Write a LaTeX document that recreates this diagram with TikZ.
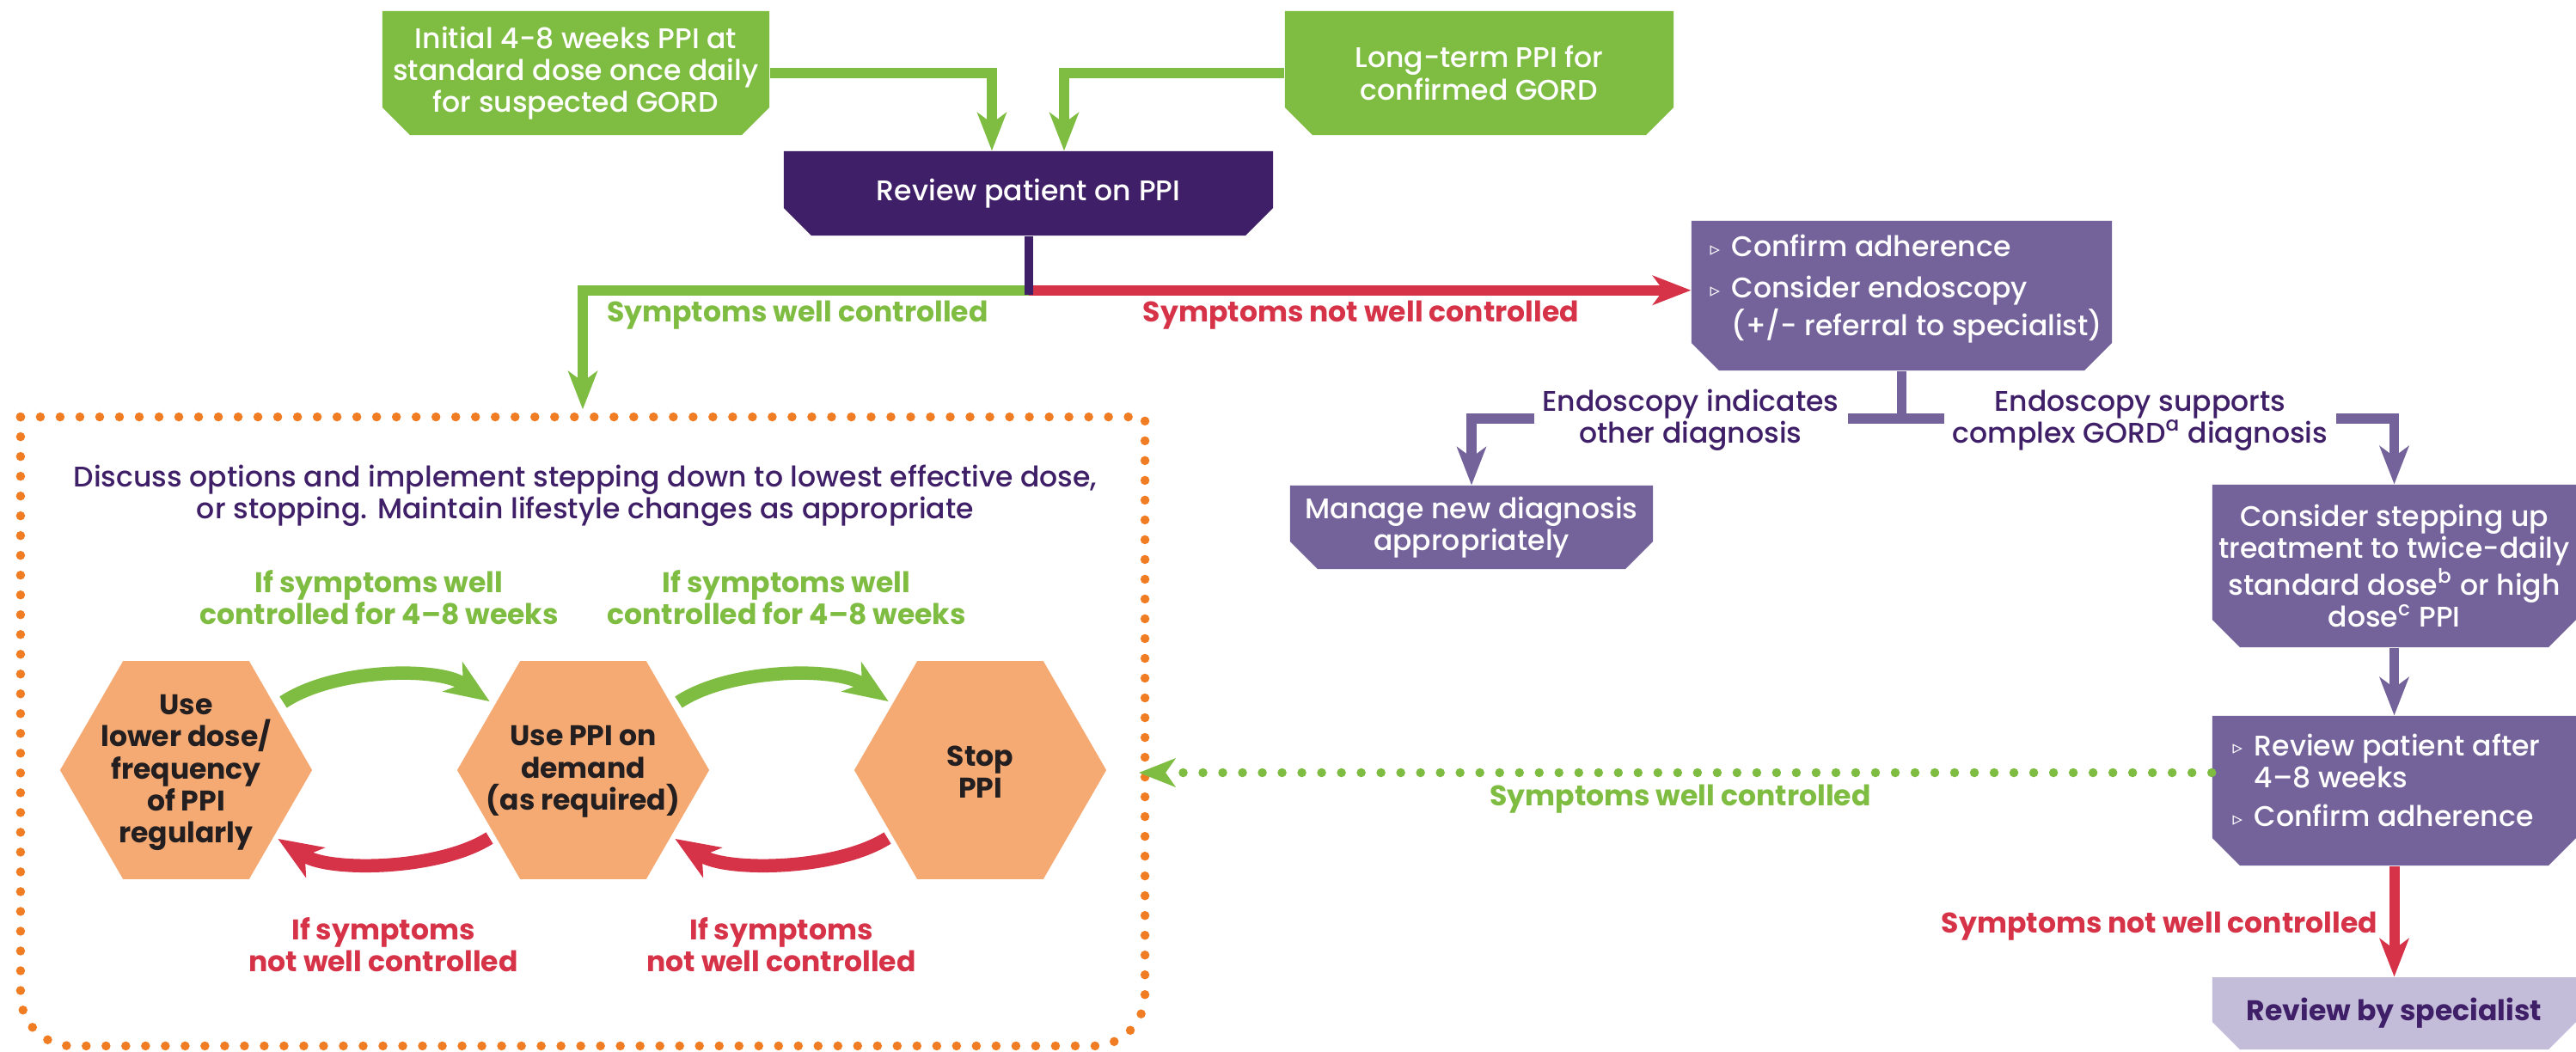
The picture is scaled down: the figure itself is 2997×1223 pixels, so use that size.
\documentclass[tikz,border=0pt]{standalone}
\usepackage{fontspec}
\setmainfont{Poppins Medium}[BoldFont={Poppins Bold}]
\newfontfamily\dejavu{DejaVu Sans}
\usetikzlibrary{arrows.meta,shapes.geometric,calc}
\definecolor{cgreen}{HTML}{7FBD42}
\definecolor{cdpurple}{HTML}{3F1F68}
\definecolor{cmpurple}{HTML}{74639B}
\definecolor{clpurple}{HTML}{C4BDD9}
\definecolor{corange}{HTML}{F07D24}
\definecolor{chex}{HTML}{F6AA73}
\definecolor{cred}{HTML}{D73348}
\definecolor{ctext}{HTML}{231F20}
\newcommand\bxfont{\fontsize{9.4}{10.6}\selectfont}
\newcommand\bul{\makebox[0.25cm][l]{\raisebox{0.4pt}{\dejavu\fontsize{6.5}{6}\selectfont ▹}}}
\newcommand\nob{\hspace*{0.25cm}}
\tikzset{
  chbox/.style={rectangle, inner sep=0pt, align=center, text=white, font=\bxfont,
    path picture={\fill[#1] (path picture bounding box.north west) -- (path picture bounding box.north east)
      -- ([yshift=0.32cm]path picture bounding box.south east) -- ([xshift=-0.32cm]path picture bounding box.south east)
      -- ([xshift=0.32cm]path picture bounding box.south west) -- ([yshift=0.32cm]path picture bounding box.south west) -- cycle;}},
  hexa/.style={regular polygon, regular polygon sides=6, minimum size=2.93cm, inner sep=0pt, fill=chex},
  hextxt/.style={font=\bxfont\bfseries, text=ctext, align=center, inner sep=0pt},
  btxt/.style={font=\bxfont, text=white, align=left, inner sep=0pt},
  glab/.style={font=\bxfont\bfseries, text=cgreen, align=center, inner sep=0pt},
  rlab/.style={font=\bxfont\bfseries, text=cred, align=center, inner sep=0pt},
  plab/.style={font=\bxfont, text=cdpurple, align=center, fill=white, inner xsep=0.1cm, inner ysep=0.02cm},
  tip/.style={-{Stealth[length=0.45cm,width=0.35cm,inset=0.13cm,line width=0pt]}},
  garrow/.style={draw=cgreen, line width=0.12cm, tip},
  rarrow/.style={draw=cred, line width=0.12cm, tip},
  parrow/.style={draw=cmpurple, line width=0.115cm, tip},
  curv/.style={line width=0.155cm, -{Stealth[length=0.52cm,width=0.42cm,inset=0.15cm,line width=0pt]}},
  dots/.style={line width=0.105cm, line cap=round, dash pattern=on 0pt off 0.23cm},
}
\begin{document}
\begin{tikzpicture}[x=0.01cm,y=-0.01cm]
\useasboundingbox (0,0) rectangle (2997,1223);
\fill[white] (0,0) rectangle (2997,1223);

% boxes
\node[chbox=cgreen, minimum width=4.50cm, minimum height=1.44cm] (init) at (670,85)
  {Initial 4-8 weeks PPI at\\standard dose once daily\\for suspected GORD};
\node[chbox=cgreen, minimum width=4.52cm, minimum height=1.44cm] (longterm) at (1721,85)
  {Long-term PPI for\\confirmed GORD};
\node[chbox=cdpurple, minimum width=5.69cm, minimum height=0.98cm] (review) at (1196.5,225)
  {Review patient on PPI};
\node[chbox=cmpurple, minimum width=4.89cm, minimum height=1.74cm] (confirm) at (2212.5,344) {};
\node[btxt, anchor=west] (confirmtxt) at (1989,336)
  {\bul Confirm adherence\\[0.11cm]\bul Consider endoscopy\\\nob(+/- referral to specialist)};
\node[chbox=cmpurple, minimum width=4.22cm, minimum height=0.97cm] (manage) at (1712,613.5)
  {Manage new diagnosis\\appropriately};
\node[chbox=cmpurple, minimum width=4.23cm, minimum height=1.89cm] (consider) at (2785.5,658.5)
  {Consider stepping up\\treatment to twice-daily\\standard dose\textsuperscript{b} or high\\dose\textsuperscript{c} PPI};
\node[chbox=cmpurple, minimum width=4.23cm, minimum height=1.74cm] (review2) at (2785.5,920) {};
\node[btxt, anchor=west] (review2txt) at (2597,908)
  {\bul Review patient after\\\nob 4–8 weeks\\[0.08cm]\bul Confirm adherence};
\node[chbox=clpurple, minimum width=4.23cm, minimum height=0.84cm, text=cdpurple, font=\bxfont\bfseries] (specialist) at (2785.5,1179)
  {Review by specialist};

% step-down region
\node[minimum width=13.06cm, minimum height=7.30cm, inner sep=0pt] (stepdown) at (678,851) {};
\draw[dots, draw=corange, rounded corners=0.6cm] (stepdown.north west) -- (stepdown.south west) -- (stepdown.south east) -- (stepdown.north east);
\draw[dots, draw=corange] (stepdown.north west) -- (stepdown.north east);
\node[font=\bxfont, text=cdpurple, align=center, inner sep=0pt] (discuss) at (681,577)
  {Discuss options and implement stepping down to lowest effective dose,\\or stopping. Maintain lifestyle changes as appropriate};

\node[hexa] (h1) at (216.5,896) {};
\node[hexa] (h2) at (678.5,896) {};
\node[hexa] (h3) at (1140.5,896) {};
\node[hextxt] (h1t) at ($(h1.center)+(0,3)$) {Use\\lower dose/\\frequency\\of PPI\\regularly};
\node[hextxt] (h2t) at ($(h2.center)+(0,2)$) {Use PPI on\\demand\\(as required)};
\node[hextxt] (h3t) at ($(h3.center)+(0,2)$) {Stop\\PPI};

\node[glab] (gl1) at (441,695.5) {If symptoms well\\controlled for 4–8 weeks};
\node[glab] (gl2) at (915,695.5) {If symptoms well\\controlled for 4–8 weeks};
\node[rlab] (rl1) at (446,1099) {If symptoms\\not well controlled};
\node[rlab] (rl2) at (909,1099) {If symptoms\\not well controlled};

\coordinate (g1s) at ($(h1.center)+(113,-79)$);
\coordinate (g1e) at ($(h2.center)+(-109,-80)$);
\coordinate (g2s) at ($(h2.center)+(111,-79)$);
\coordinate (g2e) at ($(h3.center)+(-107,-80)$);
\coordinate (r1s) at ($(h2.center)+(-109,79)$);
\coordinate (r1e) at ($(h1.center)+(107,80)$);
\coordinate (r2s) at ($(h3.center)+(-108,79)$);
\coordinate (r2e) at ($(h2.center)+(107,80)$);
\draw[curv, draw=cgreen] (g1s) .. controls ($(g1s)+(60,-40)$) and ($(g1e)+(-60,-40)$) .. (g1e);
\draw[curv, draw=cgreen] (g2s) .. controls ($(g2s)+(60,-40)$) and ($(g2e)+(-60,-40)$) .. (g2e);
\draw[curv, draw=cred] (r1s) .. controls ($(r1s)+(-60,38)$) and ($(r1e)+(60,38)$) .. (r1e);
\draw[curv, draw=cred] (r2s) .. controls ($(r2s)+(-60,38)$) and ($(r2e)+(60,38)$) .. (r2e);

% connectors
\draw[garrow] (init.east) -| ([xshift=-0.425cm]review.north);
\draw[garrow] (longterm.west) -| ([xshift=0.415cm]review.north);
\coordinate (j) at ($(review.south)+(0,63)$);
\draw[rarrow] (j) -- (j -| confirm.west);
\draw[garrow] (j) -| ([yshift=0.09cm]stepdown.north);
\draw[draw=cdpurple, line width=0.1cm] (review.south) -- ($(j)+(0,5.5)$);
\node[glab] (swc) at (928,367) {Symptoms well controlled};
\node[rlab] (snwc) at (1583.5,367) {Symptoms not well controlled};

\coordinate (k) at ($(confirm.south)+(0,55)$);
\draw[parrow] (k) -| (manage.north);
\draw[parrow] (k) -| (consider.north);
\draw[draw=cmpurple, line width=0.11cm] (confirm.south) -- ($(k)+(0,5.5)$);
\node[plab] (el) at (1967,489) {Endoscopy indicates\\other diagnosis};
\node[plab] (er) at (2490,489) {Endoscopy supports\\complex GORD\textsuperscript{a} diagnosis};

\draw[parrow] (consider.south) -- (review2.north);
\draw[rarrow] (review2.south) -- (specialist.north);
\node[rlab] (snwc2) at (2512.5,1078) {Symptoms not well controlled};

\coordinate (gd) at ($(review2.west)+(0,-21)$);
\draw[dots, draw=cgreen, shorten >=-0.07cm, -{Stealth[length=0.43cm,width=0.34cm,inset=0.12cm,line width=0pt]}] (gd) -- (stepdown.east |- gd);
\node[glab] (swc2) at (1955,930) {Symptoms well controlled};
\end{tikzpicture}
\end{document}
